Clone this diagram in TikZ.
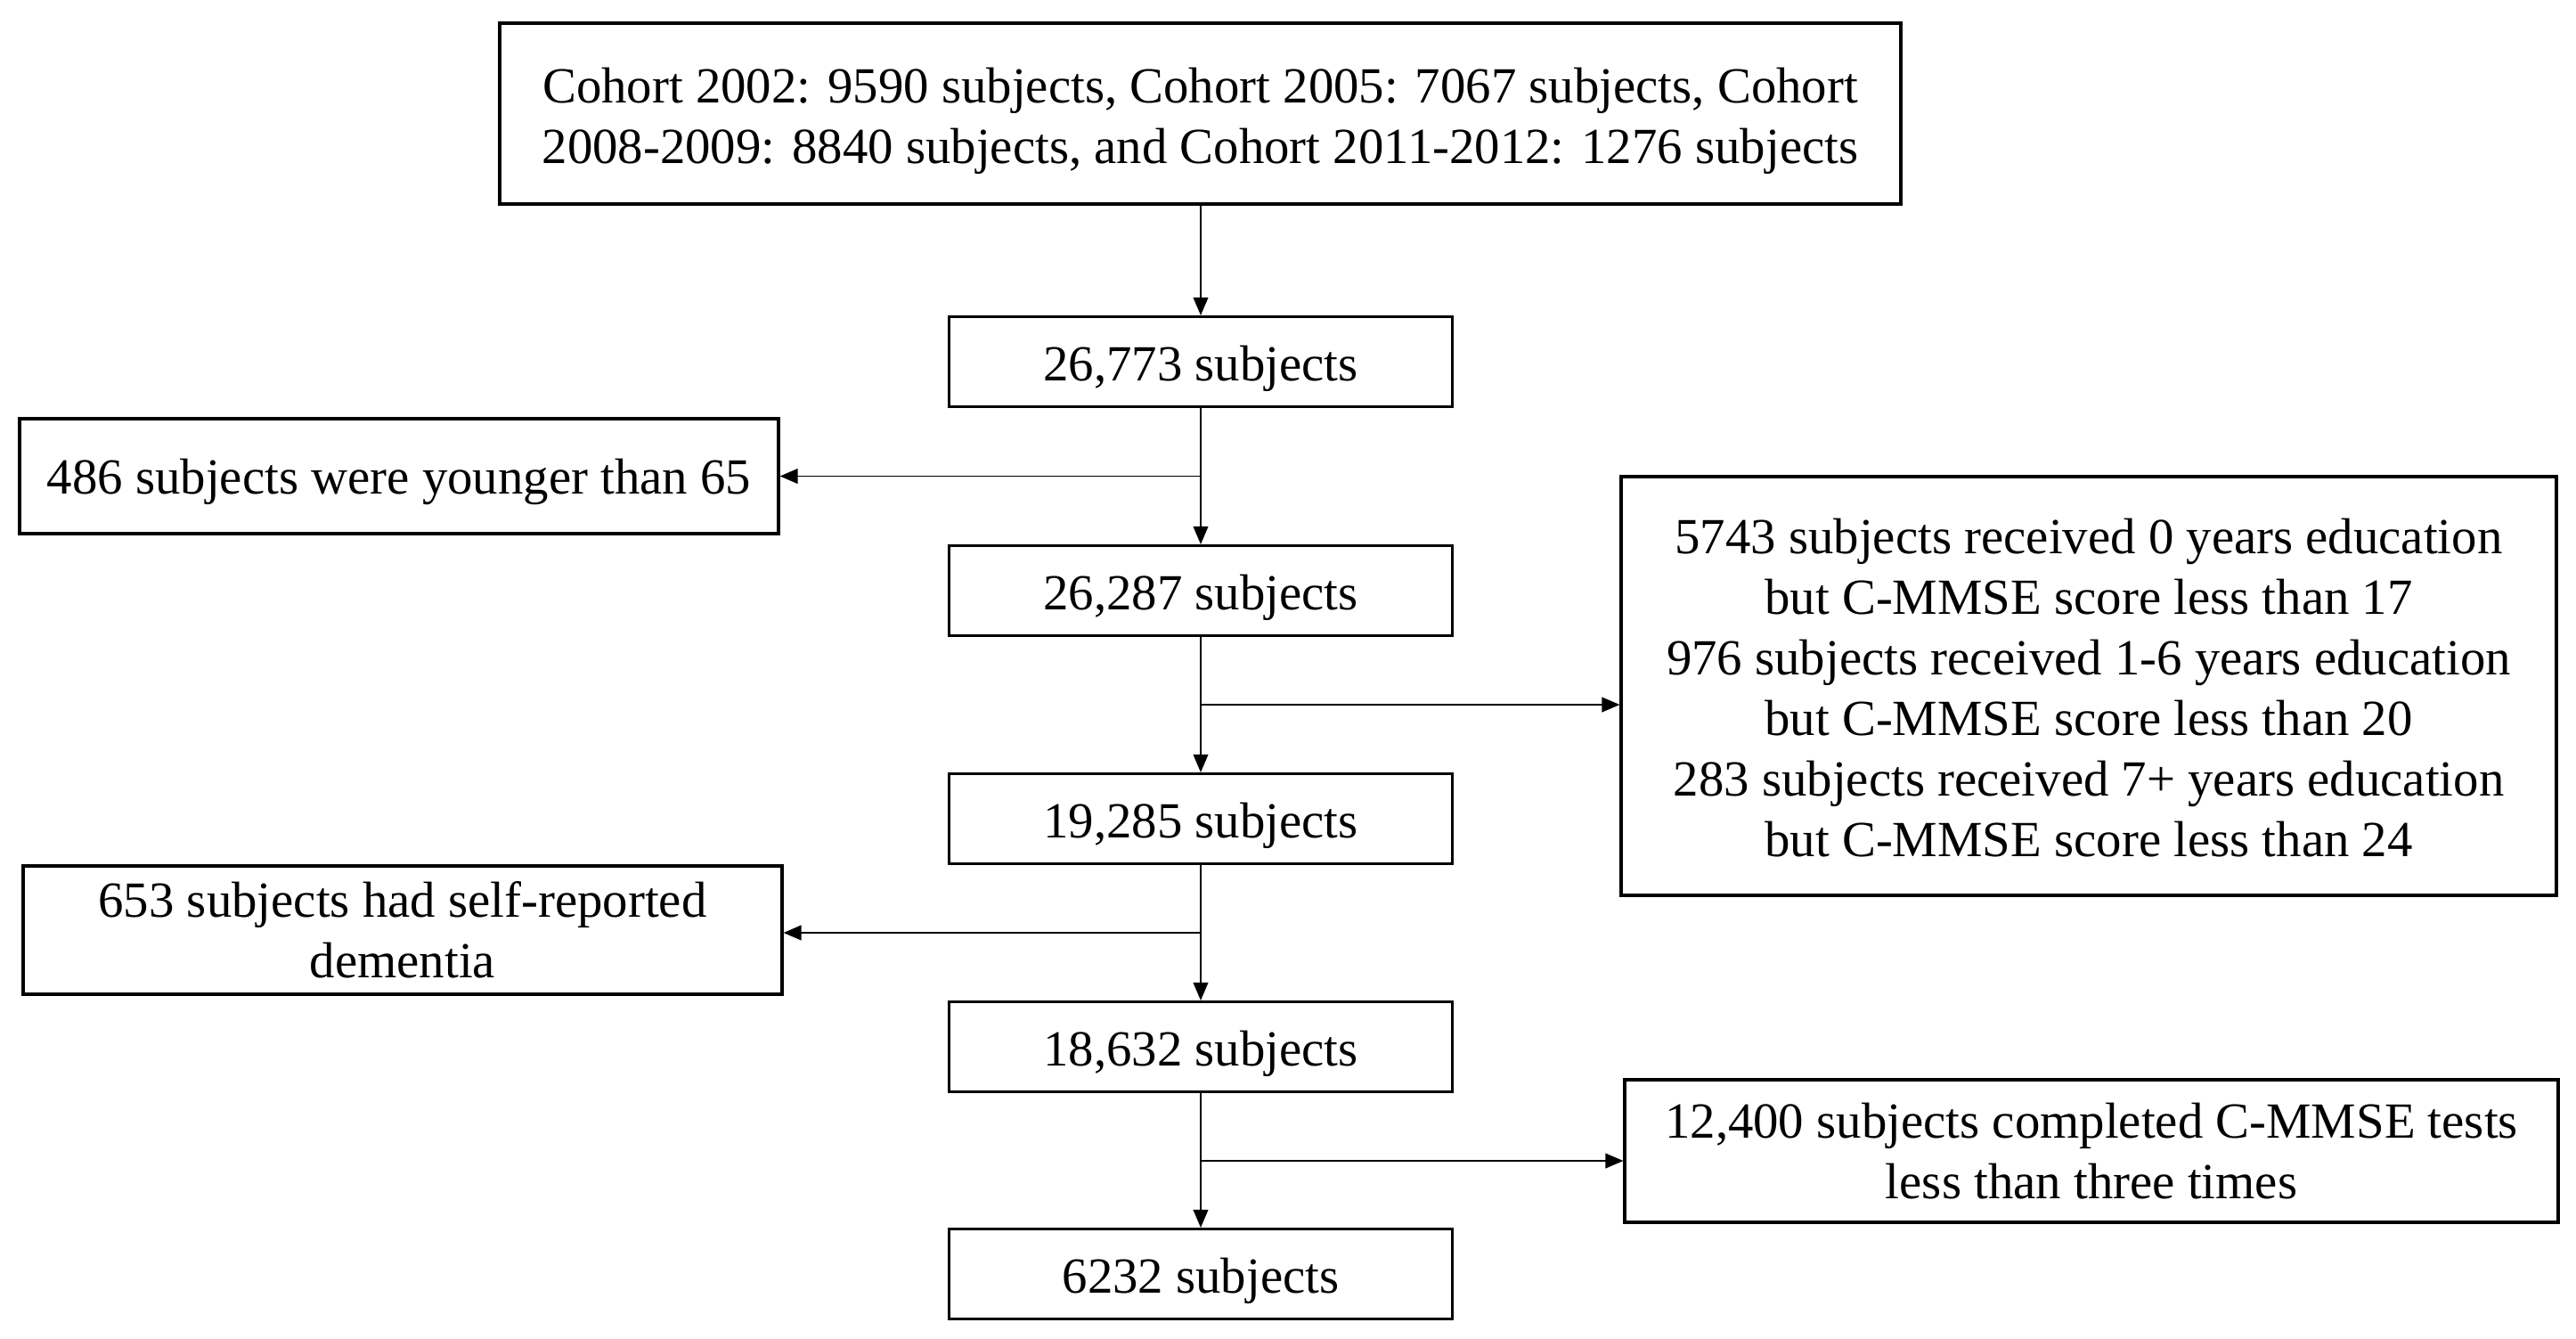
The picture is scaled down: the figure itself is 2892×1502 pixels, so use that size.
\documentclass[tikz,border=0pt]{standalone}
\usepackage{fontspec}
\setmainfont{Liberation Serif}
\usetikzlibrary{arrows.meta}
\begin{document}
\begin{tikzpicture}[x=0.25pt,y=-0.25pt,
  frame/.style={draw,line width=0.8pt,inner sep=0pt},
  mainbox/.style={frame,minimum width=141.25pt,minimum height=25.25pt},
  txt/.style={align=center,inner sep=0pt,font=\fontsize{14.2}{17}\selectfont},
  arr/.style={line width=0.35pt,-{Triangle[width=4.2pt,length=5pt]}}]
\useasboundingbox (0,0) rectangle (2892,1502);
\node[frame,minimum width=393.25pt,minimum height=50.75pt] (top) at (1347.5,127.5) {};
\node[txt,yshift=-2pt] (topt) at (top.center)
  {Cohort 2002: 9590 subjects, Cohort 2005: 7067 subjects, Cohort\\2008-2009: 8840 subjects, and Cohort 2011-2012: 1276 subjects};
\node[mainbox] (b1) at (1348,406) {};
\node[mainbox] (b2) at (1348,663) {};
\node[mainbox] (b3) at (1348,919) {};
\node[mainbox] (b4) at (1348,1175) {};
\node[mainbox] (b5) at (1348,1430) {};
\node[txt,yshift=-2pt] (b1t) at (b1.center) {26,773 subjects};
\node[txt,yshift=-2pt] (b2t) at (b2.center) {26,287 subjects};
\node[txt,yshift=-2pt] (b3t) at (b3.center) {19,285 subjects};
\node[txt,yshift=-2pt] (b4t) at (b4.center) {18,632 subjects};
\node[txt,yshift=-2pt] (b5t) at (b5.center) {6232 subjects};
\node[frame,minimum width=213pt,minimum height=32.25pt] (l1) at (448,534.5) {};
\node[txt,yshift=-1.5pt] (l1t) at (l1.center) {486 subjects were younger than 65};
\node[frame,minimum width=262.5pt,minimum height=117.5pt] (r1) at (2345,770) {};
\node[txt,yshift=-0.5pt] (r1t) at (r1.center)
  {5743 subjects received 0 years education\\but C-MMSE score less than 17\\976 subjects received 1-6 years education\\but C-MMSE score less than 20\\283 subjects received 7+ years education\\but C-MMSE score less than 24};
\node[frame,minimum width=213pt,minimum height=36pt] (l2) at (452,1044) {};
\node[txt] (l2t) at (l2.center) {653 subjects had self-reported\\dementia};
\node[frame,minimum width=262pt,minimum height=40pt] (r2) at (2348,1292) {};
\node[txt] (r2t) at (r2.center) {12,400 subjects completed C-MMSE tests\\less than three times};
\draw[arr] (top.south -| b1) -- (b1);
\draw[arr] (b1) -- (b2);
\draw[arr] (b2) -- (b3);
\draw[arr] (b3) -- (b4);
\draw[arr] (b4) -- (b5);
\coordinate (j1) at (1348,534.5);
\coordinate (j2) at (1348,791);
\coordinate (j3) at (1348,1047);
\coordinate (j4) at (1348,1303);
\draw[arr] (j1) -- (j1 -| l1.east);
\draw[arr] (j2) -- (j2 -| r1.west);
\draw[arr] (j3) -- (j3 -| l2.east);
\draw[arr] (j4) -- (j4 -| r2.west);
\end{tikzpicture}
\end{document}
